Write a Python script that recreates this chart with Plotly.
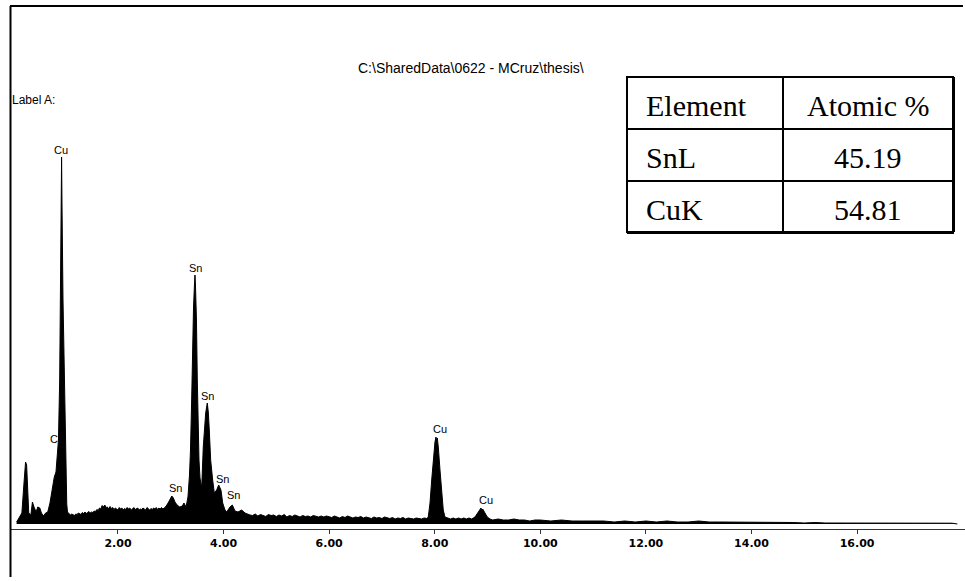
import plotly.graph_objects as go

# EDS spectrum: energy (keV) and counts per channel
energy_kev = [
    0.08, 0.13, 0.18, 0.22, 0.25, 0.27, 0.29, 0.31, 0.35, 0.38, 0.41, 0.45, 0.48,
    0.52, 0.55, 0.59, 0.63, 0.67,
    0.712, 0.756, 0.794, 0.826, 0.854, 0.873, 0.896, 0.911, 0.924, 0.932, 0.940,
    0.949, 0.959, 0.987, 1.006, 1.021, 1.030, 1.044, 1.072,
    1.100, 1.125, 1.150, 1.175, 1.200, 1.225, 1.250, 1.275, 1.300, 1.325, 1.350,
    1.375, 1.400, 1.425, 1.450, 1.475, 1.500, 1.525, 1.550, 1.575, 1.600, 1.625,
    1.650, 1.675, 1.700, 1.725, 1.750, 1.775, 1.800, 1.825, 1.850, 1.875, 1.900,
    1.925, 1.950, 1.975, 2.000, 2.025, 2.050, 2.075, 2.100, 2.125, 2.150, 2.175,
    2.200, 2.225, 2.250, 2.275, 2.300, 2.325, 2.350, 2.375, 2.400, 2.425, 2.450,
    2.475, 2.500, 2.525, 2.550, 2.575, 2.600, 2.625, 2.650, 2.675, 2.700, 2.725,
    2.750, 2.775, 2.800, 2.825, 2.850, 2.875, 2.900,
    2.95, 3.00, 3.02, 3.05, 3.08, 3.12, 3.17, 3.22, 3.25, 3.29,
    3.326, 3.355, 3.374, 3.396, 3.415, 3.431, 3.449, 3.459, 3.468, 3.487, 3.503,
    3.516, 3.535, 3.554, 3.586, 3.616, 3.639, 3.662, 3.692, 3.711, 3.730, 3.756,
    3.794, 3.825, 3.870, 3.908, 3.951, 3.984, 4.027, 4.059, 4.122, 4.166, 4.217,
    4.274, 4.344, 4.406, 4.501,
    4.55, 4.60, 4.65, 4.70, 4.75, 4.80, 4.85, 4.90, 4.95, 5.00, 5.05, 5.10, 5.15,
    5.20, 5.25, 5.30, 5.35, 5.40, 5.45, 5.50, 5.55, 5.60, 5.65, 5.70, 5.75, 5.80,
    5.85, 5.90, 5.95, 6.00, 6.05, 6.10, 6.15, 6.20, 6.25, 6.30, 6.35, 6.40, 6.45,
    6.50, 6.55, 6.60, 6.65, 6.70, 6.75, 6.80, 6.85, 6.90, 6.95, 7.00, 7.05, 7.10,
    7.15, 7.20, 7.25, 7.30, 7.35, 7.40, 7.45, 7.50, 7.55, 7.60, 7.65, 7.70, 7.75,
    7.80, 7.85,
    7.878, 7.911, 7.943, 7.973, 8.005, 8.024, 8.036, 8.049, 8.068, 8.100, 8.132,
    8.162, 8.194,
    8.25, 8.30, 8.35, 8.40, 8.45, 8.50, 8.55, 8.60, 8.65, 8.70,
    8.763, 8.826, 8.858, 8.877, 8.896, 8.909, 8.952, 8.996, 9.047,
    9.1, 9.2, 9.3, 9.4, 9.5, 9.6, 9.7, 9.8, 9.9, 10.0, 10.2, 10.4, 10.6, 10.8,
    11.0, 11.2, 11.4, 11.6, 11.8, 12.0, 12.2, 12.4, 12.6, 12.8, 13.0, 13.2, 13.4,
    13.6, 13.8, 14.0, 14.2, 14.4, 14.6, 14.8, 15.0, 15.2, 15.4, 15.6, 15.8, 16.0,
    16.2, 16.4, 16.6, 16.8, 17.0, 17.2, 17.4, 17.6, 17.8, 17.9,
]
counts = [
    20, 60, 110, 410, 620, 590, 340, 110, 90, 220, 170, 120, 170,
    160, 110, 80, 110, 120,
    210, 340, 470, 520, 690, 840, 1440, 2240, 3040, 3670, 3200,
    2600, 2240, 1440, 840, 470, 200, 120, 100,
    90, 100, 95, 85, 100, 95, 110, 100, 95, 115, 105,
    120, 105, 115, 125, 110, 120, 115, 130, 125, 145, 135,
    160, 150, 185, 170, 190, 165, 170, 150, 175, 155, 165,
    145, 160, 150, 140, 165, 150, 160, 140, 155, 145, 165,
    150, 160, 140, 150, 165, 145, 155, 160, 140, 150, 145,
    160, 150, 140, 165, 150, 140, 155, 145, 160, 150, 165,
    145, 160, 150, 165, 150, 160, 170,
    210, 270, 280, 260, 220, 190, 170, 180, 210, 170,
    270, 490, 740, 1240, 1840, 2160, 2390, 2490, 2390, 2040, 1440,
    940, 640, 460, 360, 770, 990, 1110, 1210, 1120, 940, 640,
    440, 310, 340, 390, 340, 210, 140, 120, 170, 190, 130,
    120, 140, 110, 90,
    85, 100, 80, 95, 85, 75, 95, 85, 90, 75, 90, 80, 95,
    70, 85, 75, 90, 80, 70, 85, 75, 80, 70, 85, 75, 70,
    80, 70, 80, 75, 65, 80, 70, 60, 75, 65, 80, 70, 60,
    70, 65, 75, 60, 70, 65, 55, 70, 60, 65, 55, 70, 60,
    55, 65, 50, 60, 55, 65, 50, 60, 55, 50, 60, 55, 50,
    60, 55,
    70, 210, 440, 670, 820, 870, 830, 860, 770, 540, 310,
    140, 70,
    60, 50, 60, 50, 60, 50, 60, 50, 60, 50,
    70, 120, 150, 160, 130, 150, 110, 70, 50,
    40, 50, 40, 40, 50, 40, 40, 30, 40, 40, 30, 40, 30, 30,
    30, 30, 20, 30, 20, 30, 20, 30, 20, 20, 30, 20, 20,
    20, 20, 20, 20, 20, 20, 15, 10, 15, 10, 10, 10, 12,
    10, 10, 10, 10, 10, 10, 8, 10, 8, 0,
]

# Peak identification labels (element, energy of label, height of label)
peak_elements = ["Cu", "Cu", "Sn", "Sn", "Sn", "Sn", "Sn", "Cu", "Cu"]
peak_label_kev = [0.921, 0.845, 3.478, 3.705, 3.989, 4.198, 3.099, 8.100, 8.971]
peak_label_counts = [3740, 850, 2560, 1280, 450, 290, 360, 950, 240]

# Energy axis ticks
tick_kev = [2, 4, 6, 8, 10, 12, 14, 16]
tick_text = ["2.00", "4.00", "6.00", "8.00", "10.00", "12.00", "14.00", "16.00"]

# Quantification table
table_header = ["Element", "Atomic %"]
table_elements = ["SnL", "CuK"]
table_atomic_pct = ["45.19", "54.81"]

title_text = "C:\\SharedData\\0622 - MCruz\\thesis\\"
label_text = "Label A:"

W, H = 965, 581
ML, MR, MT, MB = 10, 0, 10, 52
PW, PH = W - ML - MR, H - MT - MB


def px(x):
    return (x - ML) / PW


def py(y):
    return (H - MB - y) / PH


fig = go.Figure()
fig.add_trace(go.Scatter(
    x=energy_kev, y=counts, mode="lines",
    line=dict(color="black", width=1),
    fill="tozeroy", fillcolor="black",
    hoverinfo="skip", showlegend=False,
))

annotations = []
for el, ex, cy in zip(peak_elements, peak_label_kev, peak_label_counts):
    annotations.append(dict(
        x=ex, y=cy, xref="x", yref="y", text=el, showarrow=False,
        xanchor="center", yanchor="middle",
        font=dict(family="Liberation Sans", size=11, color="black"),
    ))

annotations.append(dict(
    x=px(471), y=py(68), xref="paper", yref="paper", text=title_text,
    showarrow=False, xanchor="center", yanchor="middle",
    font=dict(family="Liberation Sans", size=14, color="black"),
))
annotations.append(dict(
    x=px(10), y=py(100), xref="paper", yref="paper", text=label_text,
    showarrow=False, xanchor="left", yanchor="middle",
    font=dict(family="Liberation Sans", size=12, color="black"),
))

# table geometry
tx0, tx1, tdiv = 627, 953, 783
row_edges = [77, 129, 181, 232]
row_text_y = [105, 157, 209]
serif = dict(family="Liberation Serif", size=30, color="black")

col1 = [table_header[0]] + table_elements
col2 = [table_header[1]] + table_atomic_pct
for i in range(3):
    annotations.append(dict(
        x=px(644), y=py(row_text_y[i]), xref="paper", yref="paper",
        text=col1[i], showarrow=False, xanchor="left", yanchor="middle",
        font=serif,
    ))
    annotations.append(dict(
        x=px((tdiv + tx1) / 2), y=py(row_text_y[i]), xref="paper", yref="paper",
        text=col2[i], showarrow=False, xanchor="center", yanchor="middle",
        font=serif,
    ))

shapes = []
# outer frame: top and left rules
shapes.append(dict(type="line", xref="paper", yref="paper",
                   x0=px(10), x1=px(963), y0=py(6), y1=py(6),
                   line=dict(color="black", width=2)))
shapes.append(dict(type="line", xref="paper", yref="paper",
                   x0=px(10.5), x1=px(10.5), y0=py(6), y1=py(577),
                   line=dict(color="black", width=2)))
# table borders
shapes.append(dict(type="rect", xref="paper", yref="paper",
                   x0=px(tx0), x1=px(tx1), y0=py(row_edges[0]), y1=py(row_edges[-1]),
                   line=dict(color="black", width=2), fillcolor="white", layer="below"))
shapes.append(dict(type="line", xref="paper", yref="paper",
                   x0=px(tx0), x1=px(tx1 + 1), y0=py(row_edges[-1] + 0.5), y1=py(row_edges[-1] + 0.5),
                   line=dict(color="black", width=3)))
shapes.append(dict(type="line", xref="paper", yref="paper",
                   x0=px(tx1 + 0.5), x1=px(tx1 + 0.5), y0=py(row_edges[0]), y1=py(row_edges[-1]),
                   line=dict(color="black", width=3)))
shapes.append(dict(type="line", xref="paper", yref="paper",
                   x0=px(tdiv), x1=px(tdiv), y0=py(row_edges[0]), y1=py(row_edges[-1]),
                   line=dict(color="black", width=2)))
for ry in row_edges[1:-1]:
    shapes.append(dict(type="line", xref="paper", yref="paper",
                       x0=px(tx0), x1=px(tx1), y0=py(ry), y1=py(ry),
                       line=dict(color="black", width=2)))

x_range = [-0.045, 18.045]
fig.update_layout(
    width=W, height=H,
    margin=dict(l=ML, r=MR, t=MT, b=MB),
    paper_bgcolor="white", plot_bgcolor="white",
    showlegend=False,
    xaxis=dict(
        range=x_range, showgrid=False, zeroline=False,
        showline=True, linecolor="#333", linewidth=1,
        ticks="outside", ticklen=4, tickcolor="#333", tickwidth=1,
        tickvals=tick_kev, ticktext=["<b>%s</b>" % t for t in tick_text],
        tickfont=dict(family="DejaVu Sans", size=11, color="black"),
    ),
    yaxis=dict(range=[-50, 5140], visible=False, showgrid=False, zeroline=False),
    annotations=annotations,
    shapes=shapes,
)

fig.write_html("out.html", config={"displayModeBar": False})
